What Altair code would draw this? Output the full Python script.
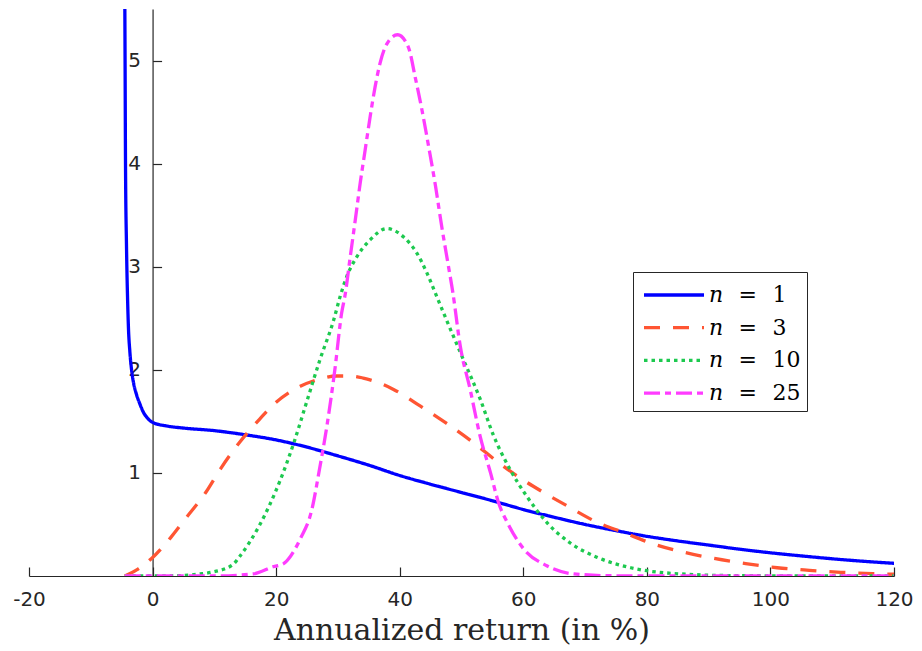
import altair as alt
import pandas as pd

# ---------------- data ----------------
SP = "\u2002\u2009"
series_labels = ["\U0001D45B" + SP + "=" + SP + "1", "\U0001D45B" + SP + "=" + SP + "3",
                 "\U0001D45B" + SP + "=" + SP + "10", "\U0001D45B" + SP + "=" + SP + "25"]
series_colors = ["#0000ff", "#ff5533", "#1dc94f", "#ff3cff"]
series_dashes = [[1, 0], [16, 13], [3.5, 4], [16, 5, 6, 5]]

x_ticks = [-20, 0, 20, 40, 60, 80, 100, 120]
y_ticks = [1, 2, 3, 4, 5]

x_n1 = [-4.51, -4.45, -4.38, -4.22, -4.05, -3.9, -3.68, -3.4, -3.1, -2.6, -2.06, -1.5,
        -0.8, 0.0, 2.3, 5.0, 10.0, 15.0, 20.0, 25.0, 30.0, 35.0, 40.0, 45.0, 50.0,
        55.0, 60.0, 65.0, 70.0, 75.0, 80.0, 85.0, 90.0, 95.0, 100.0, 105.0, 110.0,
        115.0, 120.0]
y_n1 = [5.8, 5.0, 4.0, 3.2, 2.7, 2.4, 2.18, 2.0, 1.88, 1.76, 1.67, 1.59,
        1.53, 1.49, 1.455, 1.435, 1.41, 1.37, 1.32, 1.25, 1.165, 1.075, 0.975, 0.89,
        0.81, 0.73, 0.645, 0.57, 0.50, 0.44, 0.385, 0.34, 0.30, 0.26, 0.225, 0.195,
        0.167, 0.143, 0.123]

x_n3 = [-4.5, -2.3, -0.16, 2.9, 5.5, 8.6, 11.0, 14.0, 17.0, 19.9, 23.9, 27.0, 29.8,
        32.0, 34.1, 39.0, 43.3, 47.6, 52.0, 56.0, 59.0, 63.3, 67.1, 72.0, 76.3, 81.1,
        86.0, 90.9, 96.0, 101.1, 106.3, 111.4, 116.5, 120.0]
y_n3 = [0.0, 0.07, 0.17, 0.37, 0.57, 0.81, 1.04, 1.29, 1.50, 1.68, 1.84, 1.91, 1.94,
        1.94, 1.92, 1.81, 1.65, 1.48, 1.29, 1.10, 0.97, 0.81, 0.68, 0.52, 0.42, 0.31,
        0.23, 0.17, 0.12, 0.08, 0.055, 0.036, 0.023, 0.017]

x_n10 = [-4.5, 0.0, 5.0, 7.7, 9.8, 13.0, 14.1, 17.2, 20.6, 22.8, 25.0, 27.1, 29.3,
         30.4, 31.4, 33.1, 35.2, 37.9, 40.6, 42.8, 44.4, 46.0, 47.6, 50.3, 53.0, 55.2,
         57.9, 60.6, 63.8, 67.6, 72.0, 77.4, 85.5, 95.0, 120.0]
y_n10 = [0.0, 0.0, 0.005, 0.02, 0.04, 0.11, 0.19, 0.48, 0.92, 1.28, 1.70, 2.10, 2.48,
         2.72, 2.90, 3.10, 3.26, 3.37, 3.29, 3.13, 2.94, 2.71, 2.48, 2.10, 1.72, 1.36,
         1.03, 0.77, 0.52, 0.32, 0.18, 0.08, 0.02, 0.003, 0.0]

x_n25 = [-4.5, 10.0, 16.3, 19.5, 21.2, 22.3, 23.9, 25.8, 27.0, 28.2, 29.5, 30.6, 31.2,
         32.0, 32.8, 33.6, 34.4, 35.2, 36.0, 36.8, 37.9, 39.65, 41.4, 42.5, 43.6, 44.7,
         45.8, 46.8, 47.9, 48.6, 49.8, 51.4, 53.0, 54.7, 56.0, 57.4, 60.1, 63.8, 68.2,
         75.0, 120.0]
y_n25 = [0.0, 0.0, 0.02, 0.09, 0.12, 0.19, 0.36, 0.65, 1.03, 1.45, 2.0, 2.55, 2.74,
         3.10, 3.45, 3.81, 4.13, 4.45, 4.74, 4.97, 5.16, 5.25, 5.13, 4.84, 4.52, 4.16,
         3.78, 3.39, 3.0, 2.75, 2.23, 1.81, 1.36, 1.0, 0.71, 0.52, 0.26, 0.10, 0.02,
         0.002, 0.0]

# ---------------- table ----------------
rows = []
for lab, xs, ys in zip(series_labels, [x_n1, x_n3, x_n10, x_n25], [y_n1, y_n3, y_n10, y_n25]):
    for i, (a, b) in enumerate(zip(xs, ys)):
        rows.append({"series": lab, "ret": a, "dens": b, "idx": i})
df = pd.DataFrame(rows)

PLOT_W, PLOT_H = 865, 567
X_DOM, Y_DOM = [-20, 120], [0, 5.5]
zero_px = PLOT_W * (0 - X_DOM[0]) / (X_DOM[1] - X_DOM[0])

AX = "#262626"
LABEL_FONT = "DejaVu Sans"
SERIF = "DejaVu Serif"

xscale = alt.Scale(domain=X_DOM, nice=False, zero=False)
yscale = alt.Scale(domain=Y_DOM, nice=False, zero=False)

# legend sample: a 60 px horizontal stroke drawn from a 30 px symbol slot
leg = alt.Legend(
    title=None, orient="none", legendX=604, legendY=263,
    symbolType="M-2,0H2", symbolSize=900, symbolStrokeWidth=3.3,
    symbolOffset=18, labelOffset=18,
    labelFont=SERIF, labelFontSize=22, labelColor="black",
    strokeColor=AX, fillColor="white", padding=6, rowPadding=4.7,
)

base = alt.Chart(df)

lines = base.mark_line(clip=True, strokeWidth=3.3, interpolate="monotone").encode(
    x=alt.X("ret:Q", scale=xscale, axis=alt.Axis(
        orient="bottom", values=x_ticks, domain=False, ticks=False, tickSize=0,
        grid=False, labelPadding=13, labelFont=LABEL_FONT, labelFontSize=20,
        labelColor=AX, labelFlush=False, labelOverlap=False,
        labelExpr="'' + datum.value",
        title="Annualized return (in %)", titleFont=SERIF, titleFontSize=30,
        titleFontWeight="normal", titleColor=AX, titlePadding=6)),
    y=alt.Y("dens:Q", scale=yscale, axis=alt.Axis(
        orient="left", values=y_ticks, domain=False, ticks=False, tickSize=0,
        grid=False, offset=-zero_px, labelPadding=12, labelFont=LABEL_FONT,
        labelFontSize=20, labelColor=AX, title=None)),
    color=alt.Color("series:N", scale=alt.Scale(domain=series_labels, range=series_colors),
                    legend=leg),
    strokeDash=alt.StrokeDash("series:N", scale=alt.Scale(domain=series_labels, range=series_dashes),
                              legend=leg),
    order="idx:Q",
)

frame = base.mark_line(strokeOpacity=0).encode(
    x=alt.X("ret:Q", scale=xscale, axis=alt.Axis(
        orient="top", offset=-PLOT_H, values=x_ticks, labels=False, domain=True,
        ticks=True, tickSize=9, domainColor=AX, tickColor=AX, domainWidth=1.2,
        tickWidth=1.2, grid=False, title=None)),
    y=alt.Y("dens:Q", scale=yscale, axis=alt.Axis(
        orient="right", offset=-(PLOT_W - zero_px), values=y_ticks, labels=False,
        domain=True, ticks=True, tickSize=9, domainColor=AX, tickColor=AX,
        domainWidth=1.2, tickWidth=1.2, grid=False, title=None)),
    detail="series:N",
    order="idx:Q",
)

chart = alt.layer(frame, lines).resolve_scale(
    x="shared", y="shared"
).resolve_axis(
    x="independent", y="independent"
).properties(
    width=PLOT_W, height=PLOT_H,
    autosize=alt.AutoSizeParams(type="none"),
    padding={"left": 29, "top": 9, "right": 28, "bottom": 75},
    background="white",
).configure_view(stroke=None)

chart.save("out.html", embed_options={"renderer": "svg", "actions": False})
